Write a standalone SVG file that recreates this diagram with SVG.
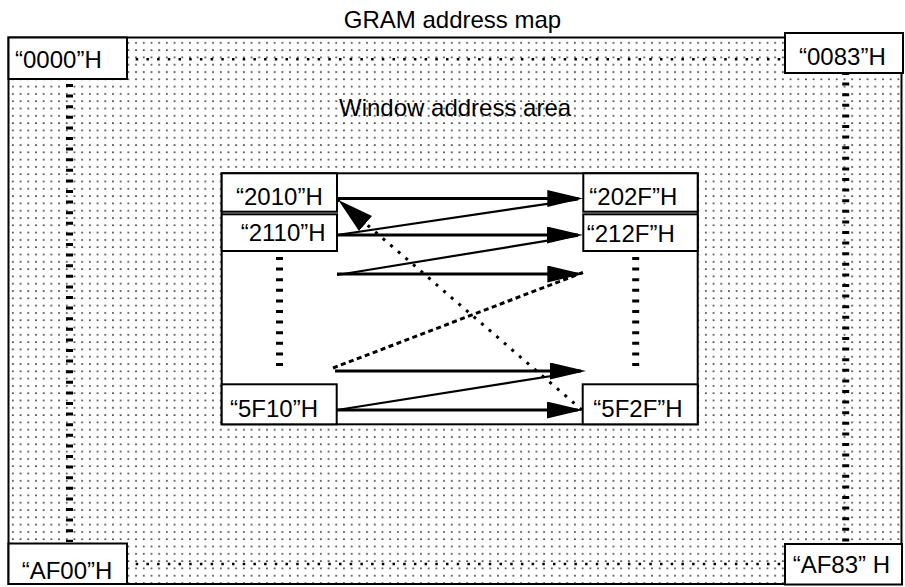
<svg xmlns="http://www.w3.org/2000/svg" width="905" height="587" viewBox="0 0 905 587">
<style>
text{font-family:"Liberation Sans",Arial,sans-serif;font-size:24px;fill:#000}
.box{fill:#fff;stroke:#000;stroke-width:2}
.vdash{fill:none;stroke:#000;stroke-width:7;stroke-dasharray:3 7.6}
.hdot{fill:none;stroke:#000;stroke-width:2.5;stroke-dasharray:2.5 8.2}
.arr{fill:none;stroke:#000;stroke-width:3;marker-end:url(#ah)}
.diag{fill:none;stroke:#000;stroke-width:2.2}
.dash{fill:none;stroke:#000;stroke-width:3;stroke-dasharray:5 3.5}
.dots{fill:none;stroke:#000;stroke-width:3;stroke-dasharray:3 7}
</style>
<defs>
<pattern id="dotpat" patternUnits="userSpaceOnUse" x="10" y="40" width="7.7" height="7.3">
<rect x="2" y="2" width="1.7" height="1.7" fill="#444"/>
</pattern>
<marker id="ah" markerUnits="userSpaceOnUse" viewBox="0 0 36 17" markerWidth="36" markerHeight="17" refX="31" refY="8.5" orient="auto">
<path d="M0,0 L36,8.5 L0,17 z" fill="#000"/>
</marker>
<marker id="ahbig" markerUnits="userSpaceOnUse" viewBox="0 0 36 20" markerWidth="36" markerHeight="20" refX="36" refY="10" orient="auto">
<path d="M0,0 L36,10 L0,20 z" fill="#000"/>
</marker>
</defs>

<text id="title" x="452.5" y="27.5" text-anchor="middle">GRAM address map</text>

<g id="gram-area">
<rect x="8.5" y="37.5" width="893" height="546.5" fill="#fff" stroke="none"/>
<rect x="8.5" y="37.5" width="893" height="546.5" fill="url(#dotpat)" stroke="#000" stroke-width="2"/>
<line class="hdot" x1="125" y1="59.3" x2="785" y2="59.3"/>
<line class="hdot" x1="125" y1="564" x2="785" y2="564"/>
<line class="vdash" x1="69.5" y1="84" x2="69.5" y2="542"/>
<line class="vdash" x1="845.7" y1="72" x2="845.7" y2="542"/>
</g>

<g id="node-0000"><rect class="box" x="8.5" y="37.5" width="118.5" height="41.5"/><text x="15" y="68">“0000”H</text></g>
<g id="node-0083"><rect class="box" x="785" y="33" width="118" height="40"/><text x="799" y="65">“0083”H</text></g>
<g id="node-AF00"><rect class="box" x="8.5" y="543.5" width="118.5" height="40.5"/><text x="21.7" y="579">“AF00”H</text></g>
<g id="node-AF83"><rect class="box" x="785" y="544" width="117" height="40.5"/><text x="792.7" y="573">“AF83” H</text></g>

<g id="window-area">
<text x="339" y="115.7">Window address area</text>
<rect x="221.7" y="173.3" width="476" height="251" fill="#fff" stroke="#000" stroke-width="2"/>
<line class="vdash" x1="279.5" y1="257" x2="279.5" y2="367"/>
<line class="vdash" x1="635.7" y1="257" x2="635.7" y2="367"/>
</g>

<g id="node-2010"><rect class="box" x="221.7" y="173.3" width="115.3" height="38.4"/><text x="236" y="204.5">“2010”H</text></g>
<g id="node-2110"><rect class="box" x="221.7" y="214.3" width="115.3" height="36.7"/><text x="240.7" y="241">“2110”H</text></g>
<g id="node-202F"><rect class="box" x="583.3" y="173.3" width="114.4" height="38.4"/><text x="589.3" y="205">“202F”H</text></g>
<g id="node-212F"><rect class="box" x="583.3" y="214.3" width="114.4" height="36.7"/><text x="586.7" y="241.7">“212F”H</text></g>
<g id="node-5F10"><rect class="box" x="221.7" y="384.3" width="115" height="40"/><text x="230" y="416.7">“5F10”H</text></g>
<g id="node-5F2F"><rect class="box" x="582.7" y="384.3" width="115" height="40"/><text x="593.3" y="416.7">“5F2F”H</text></g>

<g id="connectors">
<line class="arr" x1="337" y1="198.5" x2="578.3" y2="198.5"/>
<line class="diag" x1="337" y1="235" x2="578" y2="199.3"/>
<line class="arr" x1="337" y1="235" x2="578" y2="235"/>
<line class="diag" x1="337" y1="275" x2="578" y2="235.7"/>
<line class="arr" x1="337" y1="274" x2="578.3" y2="274"/>
<line class="dash" x1="333" y1="368" x2="583" y2="272.5"/>
<line class="arr" x1="335" y1="371" x2="581" y2="371"/>
<line class="diag" x1="337" y1="410" x2="580" y2="371.5"/>
<line class="arr" x1="337" y1="410" x2="577.7" y2="410"/>
<line class="dots" x1="582" y1="410" x2="338.3" y2="200" marker-end="url(#ahbig)"/>
</g>
</svg>
